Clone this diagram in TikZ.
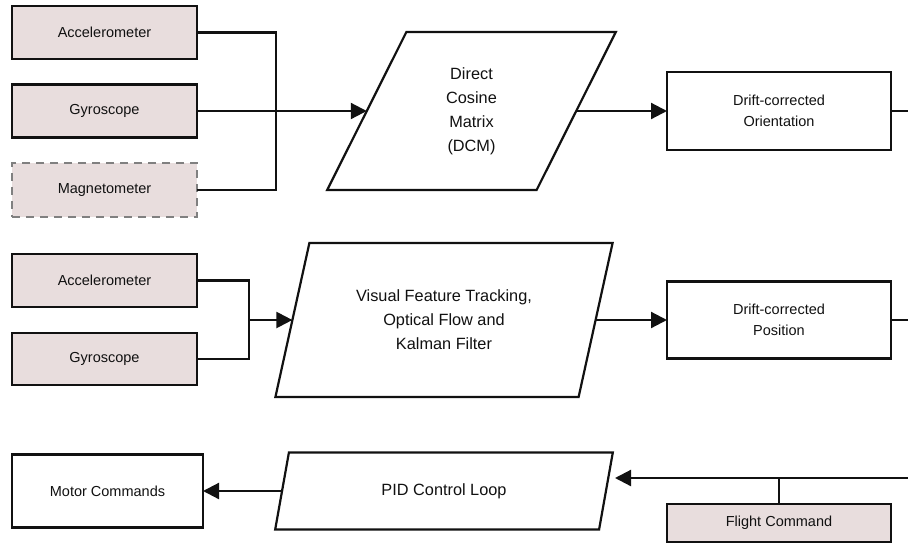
\documentclass[tikz,border=0pt]{standalone}
\usepackage{fontspec}
\setmainfont{Liberation Sans}
\usetikzlibrary{shapes.geometric,arrows.meta}

\definecolor{sensorfill}{HTML}{E8DDDD}
\definecolor{inkline}{HTML}{111111}
\definecolor{dashgray}{HTML}{808080}

\tikzset{
  wire/.style={draw=inkline, line width=2.2pt},
  feed/.style={wire, -{Triangle[length=16pt,width=16pt]}},
  boxtext/.style={font=\fontsize{14.5}{21}\selectfont, text=inkline, align=center},
  plainbox/.style={rectangle, draw=inkline, line width=2.2pt, fill=white,
    inner sep=0pt, outer sep=0pt, boxtext},
  sensor/.style={plainbox, fill=sensorfill},
  optsensor/.style={sensor, draw=dashgray, dash pattern=on 8pt off 6pt},
  process/.style={trapezium, trapezium stretches=true, draw=inkline,
    line width=2.2pt, fill=white, inner sep=0pt, outer sep=0pt,
    font=\fontsize{16.3}{24}\selectfont, text=inkline, align=center},
}

\begin{document}
\begin{tikzpicture}[x=1pt, y=-1pt]
  \useasboundingbox (0,0) rectangle (908,544);

  % orientation branch
  \node[sensor, minimum width=185pt, minimum height=53pt] (acc1) at (104.5,32.5) {Accelerometer};
  \node[sensor, minimum width=185pt, minimum height=53pt] (gyr1) at (104.5,111) {Gyroscope};
  \node[optsensor, minimum width=185pt, minimum height=54pt] (mag) at (104.5,190) {Magnetometer};
  \node[process, trapezium left angle=70.5, trapezium right angle=109.5,
        minimum width=289pt, minimum height=158pt] (dcm) at (471.5,111)
        {Direct\\Cosine\\Matrix\\(DCM)};
  \node[plainbox, minimum width=224pt, minimum height=78pt] (ori) at (779,111)
        {Drift-corrected\\Orientation};

  % position branch
  \node[sensor, minimum width=185pt, minimum height=53pt] (acc2) at (104.5,280.5) {Accelerometer};
  \node[sensor, minimum width=185pt, minimum height=52pt] (gyr2) at (104.5,359) {Gyroscope};
  \node[process, trapezium left angle=69.7, trapezium right angle=110.3,
        minimum width=338pt, minimum height=154pt] (vft) at (444,320)
        {Visual Feature Tracking,\\Optical Flow and\\Kalman Filter};
  \node[plainbox, minimum width=224pt, minimum height=77pt] (pos) at (779,320)
        {Drift-corrected\\Position};

  % control branch
  \node[plainbox, minimum width=191pt, minimum height=73pt] (mot) at (107.5,491) {Motor Commands};
  \node[process, trapezium left angle=70, trapezium right angle=110,
        minimum width=338pt, minimum height=77pt] (pid) at (444,491) {PID Control Loop};
  \node[sensor, minimum width=224pt, minimum height=38pt] (fc) at (779,523) {Flight Command};

  % junctions and off-edge ends
  \coordinate (j1) at (276,32.5);
  \coordinate (j2) at (249,320);
  \coordinate (oriOut) at (908,111);
  \coordinate (posOut) at (908,320);
  \coordinate (cmdIn) at (908,478);
  \coordinate (pidIn) at (615,478);
  \coordinate (fcTap) at (779,478);

  % connectors
  \draw[wire] (acc1.east) -- (j1) |- (mag.east);
  \draw[feed] (gyr1.east) -- (dcm.left side);
  \draw[feed] (dcm.right side) -- (ori.west);
  \draw[wire] (ori.east) -- (oriOut);

  \draw[wire] (acc2.east) -| (j2) |- (gyr2.east);
  \draw[feed] (j2) -- (vft.left side);
  \draw[feed] (vft.right side) -- (pos.west);
  \draw[wire] (pos.east) -- (posOut);

  \draw[feed] (cmdIn) -- (pidIn);
  \draw[wire] (fc.north) -- (fcTap);
  \draw[feed] (pid.left side) -- (mot.east);
\end{tikzpicture}
\end{document}
